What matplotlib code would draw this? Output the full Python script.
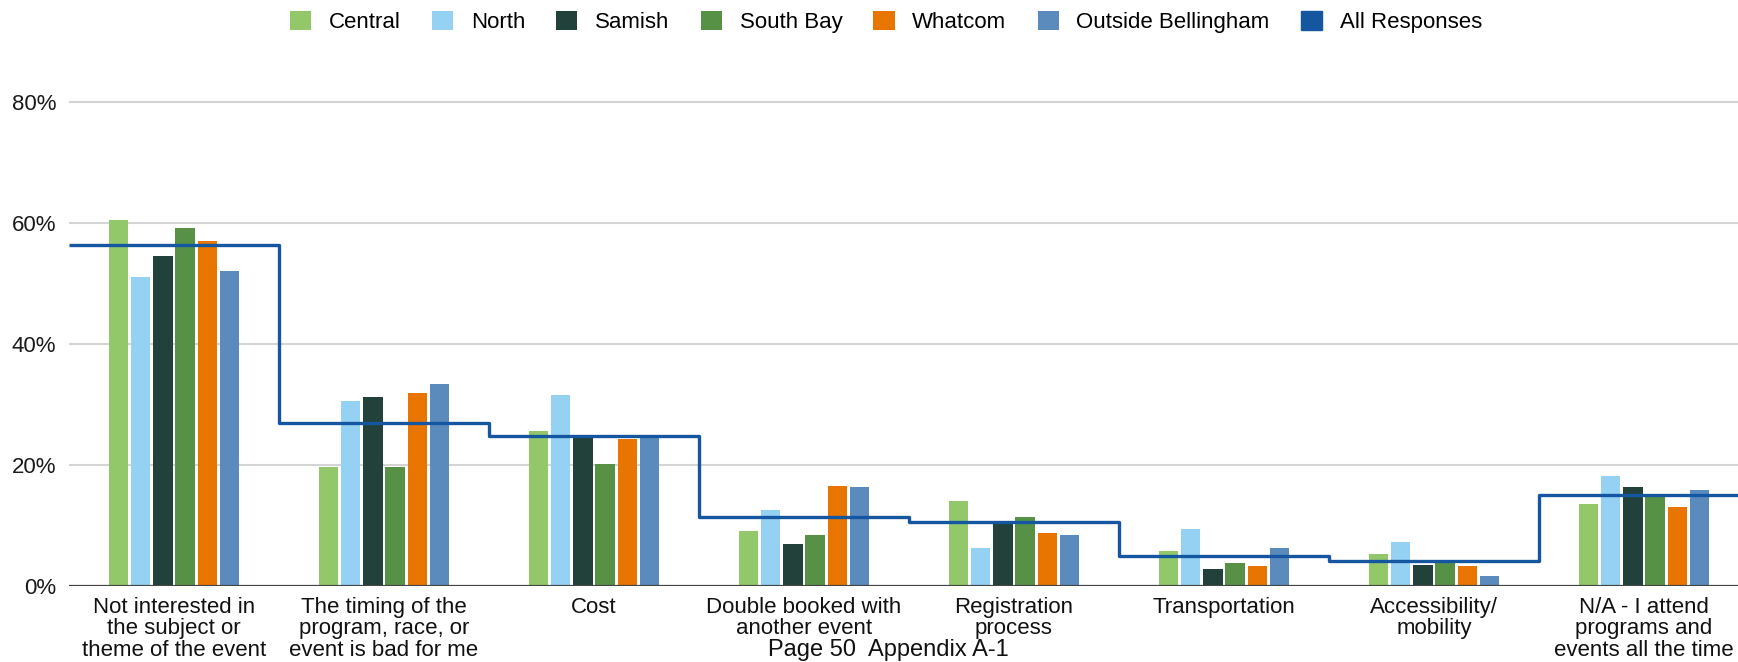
import numpy as np
import matplotlib.pyplot as plt

plt.rcParams['font.family'] = ['Liberation Sans', 'DejaVu Sans']

categories = [
    'Not interested in\nthe subject or\ntheme of the event',
    'The timing of the\nprogram, race, or\nevent is bad for me',
    'Cost',
    'Double booked with\nanother event',
    'Registration\nprocess',
    'Transportation',
    'Accessibility/\nmobility',
    'N/A - I attend\nprograms and\nevents all the time',
]

central = [60.5, 19.6, 25.6, 9.1, 14.1, 5.7, 5.3, 13.5]
north = [51.1, 30.6, 31.5, 12.5, 6.3, 9.4, 7.2, 18.2]
samish = [54.5, 31.2, 24.8, 7.0, 10.4, 2.8, 3.5, 16.3]
south_bay = [59.2, 19.6, 20.2, 8.5, 11.4, 3.8, 4.0, 15.0]
whatcom = [57.0, 31.8, 24.3, 16.6, 8.8, 3.3, 3.3, 13.1]
outside = [52.0, 33.4, 24.6, 16.3, 8.5, 6.3, 1.7, 15.9]
all_responses = [56.4, 27.0, 24.8, 11.4, 10.5, 5.0, 4.1, 15.0]

series = [
    ('Central', central, '#93c86a'),
    ('North', north, '#94d1f2'),
    ('Samish', samish, '#22413a'),
    ('South Bay', south_bay, '#579145'),
    ('Whatcom', whatcom, '#e87500'),
    ('Outside Bellingham', outside, '#5b8bbd'),
]
line_color = '#1457a0'

fig = plt.figure(figsize=(17.38, 6.62), dpi=100)
ax = fig.add_axes([0.0397, 0.1148, 0.9666, 0.7773])

x = np.arange(len(categories))
pitch = 0.106
width = 0.093

handles = []
for j, (name, vals, color) in enumerate(series):
    bars = ax.bar(x + (j - 2.5) * pitch, np.array(vals) / 100, width,
                  color=color, label=name, zorder=2)
    handles.append(bars)

# overall share drawn as a stepped line across each category
steps = ax.stairs(np.array(all_responses) / 100, np.arange(-0.5, len(categories) + 0.5),
                  color=line_color, linewidth=2.4, baseline=None, zorder=3,
                  label='All Responses')
steps.set_joinstyle('round')
handles.append(plt.Rectangle((0, 0), 1, 1, color=line_color))

ax.set_xlim(-0.5, len(categories) - 0.5)
ax.set_ylim(0, 0.85)
ax.set_yticks([0, 0.2, 0.4, 0.6, 0.8])
ax.set_yticklabels(['0%', '20%', '40%', '60%', '80%'], fontsize=16, color='#1a1a1a')
ax.set_xticks(x)
ax.set_xticklabels(categories, fontsize=16, color='#111111', linespacing=1.02)
ax.tick_params(length=0, pad=8)
ax.tick_params(axis='y', pad=9)

for s in ['top', 'right', 'left', 'bottom']:
    ax.spines[s].set_visible(False)
ax.grid(True, axis='y', color='#d4d4d4', linewidth=1.5, zorder=0)
ax.axhline(0, color='#444444', linewidth=1.6, zorder=4)

labels = [s[0] for s in series] + ['All Responses']
fig.legend(handles, labels, loc='center', bbox_to_anchor=(0.5098, 0.967), ncol=7,
           frameon=False, fontsize=16, handlelength=0.95, handleheight=0.95,
           handletextpad=0.8, columnspacing=1.4)

fig.text(0.511, 0.0095, 'Page 50  Appendix A-1', fontsize=17, ha='center',
         va='baseline', color='#111111')

fig.savefig('out.png', dpi=100)
